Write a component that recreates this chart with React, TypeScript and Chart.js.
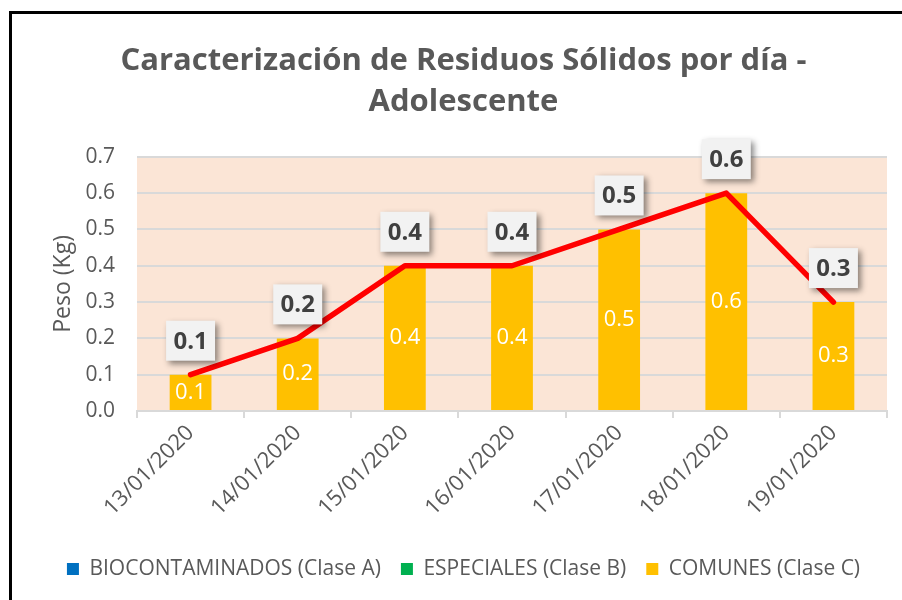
import React, { useEffect, useRef } from 'react';
import { Chart, registerables } from 'chart.js';

Chart.register(...registerables);

const categories = ['13/01/2020', '14/01/2020', '15/01/2020', '16/01/2020', '17/01/2020', '18/01/2020', '19/01/2020'];
const biocontaminados: (number | null)[] = [null, null, null, null, null, null, null];
const especiales: (number | null)[] = [null, null, null, null, null, null, null];
const comunes = [0.1, 0.2, 0.4, 0.4, 0.5, 0.6, 0.3];
const totalLine = [0.1, 0.2, 0.4, 0.4, 0.5, 0.6, 0.3];
const yMin = 0;
const yMax = 0.7;
const yStep = 0.1;

const titleLines = ['Caracterización de Residuos Sólidos por día -', 'Adolescente'];
const yTitle = 'Peso (Kg)';
const seriesNames = ['BIOCONTAMINADOS (Clase A)', 'ESPECIALES (Clase B)', 'COMUNES (Clase C)'];
const FONT = "'Open Sans', 'DejaVu Sans', sans-serif";

const decorPlugin = {
  id: 'decor',
  beforeDraw(chart: any) {
    const { ctx, chartArea } = chart;
    ctx.save();
    ctx.fillStyle = '#ffffff';
    ctx.fillRect(0, 0, chart.width, chart.height);
    ctx.fillStyle = '#fbe5d6';
    ctx.fillRect(chartArea.left, chartArea.top, chartArea.right - chartArea.left, chartArea.bottom - chartArea.top);
    ctx.restore();
  },
  afterDatasetsDraw(chart: any) {
    const { ctx } = chart;
    // bar labels (COMUNES)
    const barMeta = chart.getDatasetMeta(3);
    ctx.save();
    ctx.font = `22px ${FONT}`;
    ctx.fillStyle = '#ffffff';
    ctx.textAlign = 'center';
    ctx.textBaseline = 'middle';
    barMeta.data.forEach((el: any, i: number) => {
      const v = comunes[i];
      if (v == null) return;
      const { x, y, base } = el.getProps(['x', 'y', 'base'], true);
      ctx.fillText(v.toFixed(1), x, (y + base) / 2);
    });
    ctx.restore();

    // line labels
    const lineMeta = chart.getDatasetMeta(0);
    lineMeta.data.forEach((el: any, i: number) => {
      const v = totalLine[i];
      if (v == null) return;
      const { x, y } = el.getProps(['x', 'y'], true);
      const w = 49;
      const h = 40;
      const cy = y - 34;
      ctx.save();
      ctx.shadowColor = 'rgba(0,0,0,0.45)';
      ctx.shadowBlur = 6;
      ctx.shadowOffsetX = 3;
      ctx.shadowOffsetY = 3;
      ctx.fillStyle = '#f2f2f2';
      ctx.fillRect(x - w / 2, cy - h / 2, w, h);
      ctx.restore();
      ctx.save();
      ctx.font = `bold 24px ${FONT}`;
      ctx.fillStyle = '#404040';
      ctx.textAlign = 'center';
      ctx.textBaseline = 'middle';
      ctx.fillText(v.toFixed(1), x, cy + 1);
      ctx.restore();
    });
  },
  afterDraw(chart: any) {
    const { ctx } = chart;
    ctx.save();
    ctx.fillStyle = '#000000';
    ctx.fillRect(9, 11, chart.width, 3);
    ctx.fillRect(9, 11, 3, chart.height);
    ctx.restore();
  },
};

export default function App() {
  const canvasRef = useRef<HTMLCanvasElement | null>(null);

  useEffect(() => {
    document.body.style.margin = '0';
    const canvas = canvasRef.current;
    if (!canvas) return;
    const chart = new Chart(canvas, {
      type: 'bar',
      data: {
        labels: categories,
        datasets: [
          {
            type: 'line',
            label: 'Total',
            data: totalLine,
            borderColor: '#ff0000',
            backgroundColor: '#ff0000',
            borderWidth: 5.5,
            pointRadius: 0,
            pointHoverRadius: 0,
            tension: 0,
            borderCapStyle: 'round',
            borderJoinStyle: 'round',
            order: 0,
          } as any,
          {
            type: 'bar',
            label: seriesNames[0],
            data: biocontaminados,
            backgroundColor: '#0070c0',
            grouped: false,
            categoryPercentage: 1,
            barPercentage: 0.39,
            order: 1,
          } as any,
          {
            type: 'bar',
            label: seriesNames[1],
            data: especiales,
            backgroundColor: '#00b050',
            grouped: false,
            categoryPercentage: 1,
            barPercentage: 0.39,
            order: 1,
          } as any,
          {
            type: 'bar',
            label: seriesNames[2],
            data: comunes,
            backgroundColor: '#ffc000',
            grouped: false,
            categoryPercentage: 1,
            barPercentage: 0.39,
            order: 1,
          } as any,
        ],
      },
      options: {
        responsive: false,
        animation: false,
        layout: { padding: { left: 40, right: 15, top: 0, bottom: 10.5 } },
        plugins: {
          tooltip: { enabled: false },
          title: {
            display: true,
            text: titleLines,
            color: '#595959',
            font: { family: FONT, size: 31, weight: 'bold', lineHeight: 1.32 },
            padding: { top: 40.5, bottom: 34.5 },
          },
          legend: {
            display: true,
            position: 'bottom',
            labels: {
              color: '#595959',
              font: { family: FONT, size: 21 },
              boxWidth: 12,
              boxHeight: 12,
              padding: 20,
              filter: (item: any) => item.datasetIndex !== 0,
            },
          },
        },
        scales: {
          x: {
            afterFit: (scale: any) => {
              scale.height = 127.5;
            },
            grid: {
              display: true,
              drawOnChartArea: false,
              drawTicks: true,
              tickLength: 7,
              color: '#d9d9d9',
              lineWidth: 2,
              offset: true,
            },
            border: { display: true, color: '#d9d9d9', width: 2 },
            ticks: {
              color: '#595959',
              font: { family: FONT, size: 22 },
              minRotation: 45,
              maxRotation: 45,
              padding: 2,
            },
          },
          y: {
            min: yMin,
            max: yMax,
            afterFit: (scale: any) => {
              scale.width = 97;
            },
            grid: { color: '#d9d9d9', lineWidth: 2, drawTicks: false },
            border: { display: false },
            ticks: {
              stepSize: yStep,
              color: '#595959',
              font: { family: FONT, size: 21 },
              padding: 22,
              callback: (v: any) => Number(v).toFixed(1),
            },
            title: {
              display: true,
              text: yTitle,
              color: '#595959',
              font: { family: FONT, size: 23 },
              padding: { top: 10, bottom: 0 },
            },
          },
        },
      },
      plugins: [decorPlugin],
    });
    return () => chart.destroy();
  }, []);

  return <canvas ref={canvasRef} width={902} height={600} style={{ display: 'block' }} />;
}
